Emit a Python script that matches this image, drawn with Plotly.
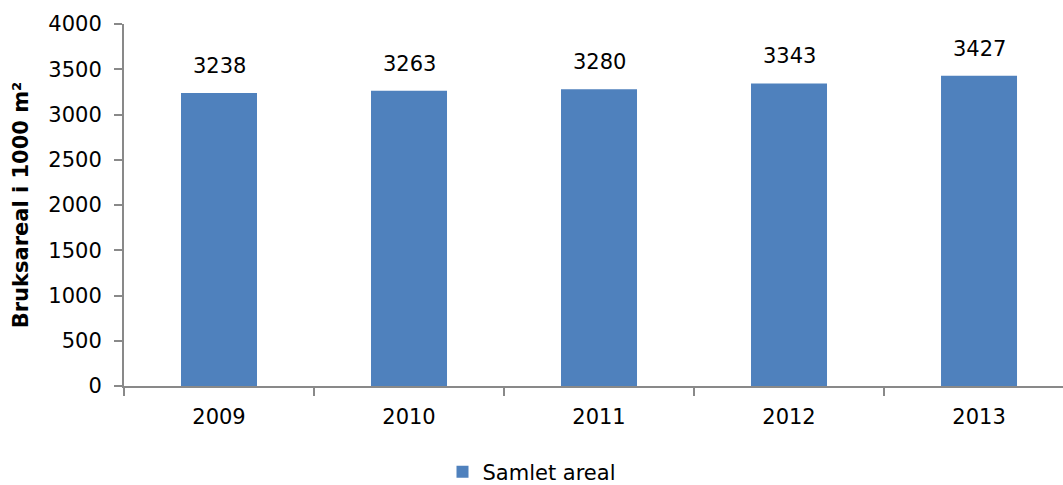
import plotly.graph_objects as go

years = ["2009", "2010", "2011", "2012", "2013"]
values = [3238, 3263, 3280, 3343, 3427]
y_ticks = [0, 500, 1000, 1500, 2000, 2500, 3000, 3500, 4000]

FONT = "DejaVu Sans"
FS = 21
fig = go.Figure()
fig.add_trace(go.Bar(
    x=years, y=values, name="Samlet areal",
    marker=dict(color="#4F81BD", line=dict(width=0)),
    width=0.4,
))
for i, v in enumerate(values):
    fig.add_annotation(x=i, y=v, text=str(v), showarrow=False,
                       xref="x", yref="y", yanchor="middle", yshift=27,
                       font=dict(family=FONT, size=FS, color="#000000"))
fig.update_layout(
    width=1063, height=485,
    margin=dict(l=124, r=0, t=24, b=99, autoexpand=False),
    plot_bgcolor="white", paper_bgcolor="white",
    font=dict(family=FONT, size=FS, color="#000000"),
    showlegend=True,
    legend=dict(orientation="h", xref="container", x=0.5, xanchor="center", yref="container",
                y=(485 - 472) / 485, yanchor="middle",
                font=dict(family=FONT, size=FS)),
    bargap=0.6,
)
fig.update_xaxes(
    type="category", range=[-0.5, 4.442],
    showline=True, linecolor="#898989", linewidth=2,
    ticks="outside", tickson="boundaries", ticklen=8, tickcolor="#898989", tickwidth=2,
    showgrid=False, tickfont=dict(family=FONT, size=FS), ticklabelstandoff=11,
)
fig.update_yaxes(
    range=[0, 4000], tickvals=y_ticks,
    showline=True, linecolor="#898989", linewidth=2,
    ticks="outside", ticklen=8, tickcolor="#898989", tickwidth=2,
    showgrid=False, zeroline=False,
    tickfont=dict(family=FONT, size=FS), ticklabelstandoff=8,
    title=dict(text="<b>Bruksareal i 1000 m²</b>", font=dict(family=FONT, size=21), standoff=14),
)
fig.write_html("out.html")
